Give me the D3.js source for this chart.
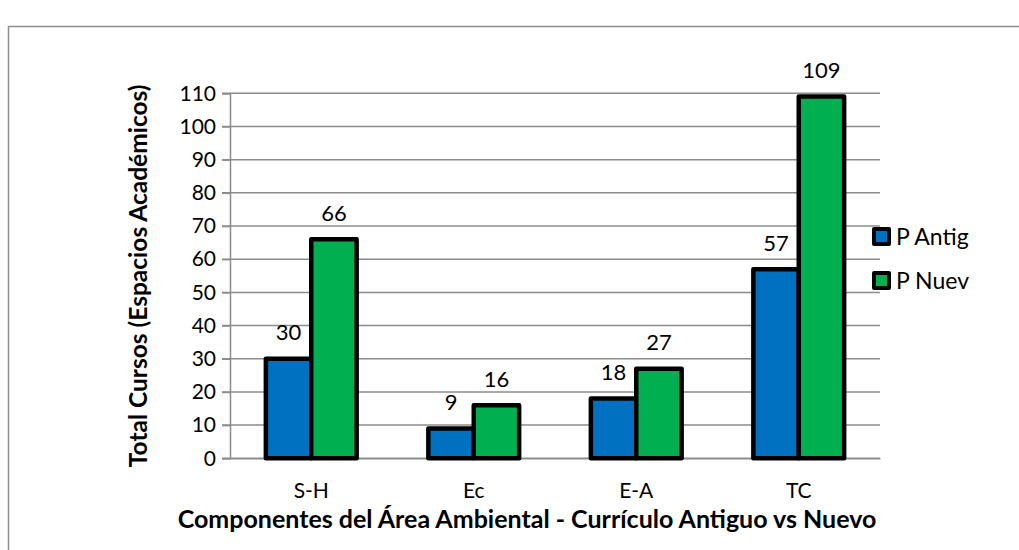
<!DOCTYPE html>
<html>
<head>
<meta charset="utf-8">
<script src="https://cdn.jsdelivr.net/npm/d3@7"></script>
<style>
  html, body { margin: 0; padding: 0; background: #fff; }
  svg { display: block; font-family: Lato, "Open Sans", sans-serif; }
</style>
</head>
<body>
<svg id="chart" width="1019" height="550"></svg>
<script>
// Course counts per component of the environmental area, old vs new curriculum
const categories = ["S-H", "Ec", "E-A", "TC"];
const seriesNames = ["P Antig", "P Nuev"];
const antiguo = [30, 9, 18, 57];
const nuevo = [66, 16, 27, 109];
const yTicks = [0, 10, 20, 30, 40, 50, 60, 70, 80, 90, 100, 110];
const colors = ["#0070C0", "#00B050"];

const series = [antiguo, nuevo];
const svg = d3.select("#chart");

// outer frame
svg.append("rect")
  .attr("x", 8.5).attr("y", 26.5)
  .attr("width", 1030).attr("height", 560)
  .attr("fill", "none").attr("stroke", "#8c8c8c").attr("stroke-width", 1.5);

const plot = { left: 230, right: 880, top: 93.3, bottom: 458.3 };

const x = d3.scaleBand().domain(categories).range([plot.left, plot.right]);
const xs = d3.scaleBand().domain(d3.range(seriesNames.length))
  .range([0, x.bandwidth()]).paddingInner(0).paddingOuter(0.79);
const y = d3.scaleLinear().domain([0, 110]).range([plot.bottom, plot.top]);

// gridlines
svg.append("g").selectAll("line").data(yTicks).join("line")
  .attr("x1", plot.left - 8).attr("x2", plot.right)
  .attr("y1", d => y(d)).attr("y2", d => y(d))
  .attr("stroke", "#8c8c8c").attr("stroke-width", 1.5);

// y axis
const yAxis = svg.append("g")
  .attr("transform", `translate(${plot.left},0)`)
  .call(d3.axisLeft(y).tickValues(yTicks).tickSize(8).tickPadding(6));
yAxis.select(".domain").attr("stroke", "#8c8c8c").attr("stroke-width", 1.5);
yAxis.selectAll(".tick line").attr("stroke", "#8c8c8c").attr("stroke-width", 1.5);
yAxis.selectAll(".tick text")
  .attr("font-size", 21).attr("fill", "#000").attr("font-family", "Lato, sans-serif");

// x axis labels
const xAxis = svg.append("g")
  .attr("transform", `translate(0,${plot.bottom})`)
  .call(d3.axisBottom(x).tickSize(0).tickPadding(25));
xAxis.select(".domain").attr("stroke", "#8c8c8c").attr("stroke-width", 1.5);
xAxis.selectAll(".tick text")
  .attr("font-size", 21).attr("fill", "#000").attr("font-family", "Lato, sans-serif");

// bars
const groups = svg.append("g").selectAll("g").data(categories).join("g")
  .attr("transform", c => `translate(${x(c)},0)`);

groups.selectAll("rect")
  .data((c, i) => series.map((s, k) => ({ k, v: s[i] })))
  .join("rect")
  .attr("x", d => xs(d.k))
  .attr("y", d => y(d.v))
  .attr("width", xs.bandwidth())
  .attr("height", d => y(0) - y(d.v))
  .attr("fill", d => colors[d.k])
  .attr("stroke", "#000").attr("stroke-width", 4.5)
  .attr("stroke-linejoin", "round");

// value labels
groups.selectAll("text")
  .data((c, i) => series.map((s, k) => ({ k, v: s[i] })))
  .join("text")
  .attr("x", d => xs(d.k) + xs.bandwidth() / 2)
  .attr("y", d => y(d.v) - 18.5)
  .attr("text-anchor", "middle")
  .attr("font-size", 22)
  .attr("fill", "#000")
  .text(d => d.v);

// axis titles
svg.append("text")
  .attr("transform", `translate(147,${(plot.top + plot.bottom) / 2}) rotate(-90)`)
  .attr("text-anchor", "middle")
  .attr("font-size", 24.5).attr("font-weight", "bold")
  .text("Total Cursos (Espacios Académicos)");

svg.append("text")
  .attr("x", 527).attr("y", 528)
  .attr("text-anchor", "middle")
  .attr("font-size", 25).attr("font-weight", "bold")
  .text("Componentes del Área Ambiental - Currículo Antiguo vs Nuevo");

// legend
const legend = svg.append("g").selectAll("g").data(seriesNames).join("g")
  .attr("transform", (d, i) => `translate(874,${229 + i * 44})`);
legend.append("rect")
  .attr("width", 15).attr("height", 15)
  .attr("fill", (d, i) => colors[i])
  .attr("stroke", "#000").attr("stroke-width", 4).attr("stroke-linejoin", "round");
legend.append("text")
  .attr("x", 22).attr("y", 16)
  .attr("font-size", 23)
  .text(d => d);
</script>
</body>
</html>
